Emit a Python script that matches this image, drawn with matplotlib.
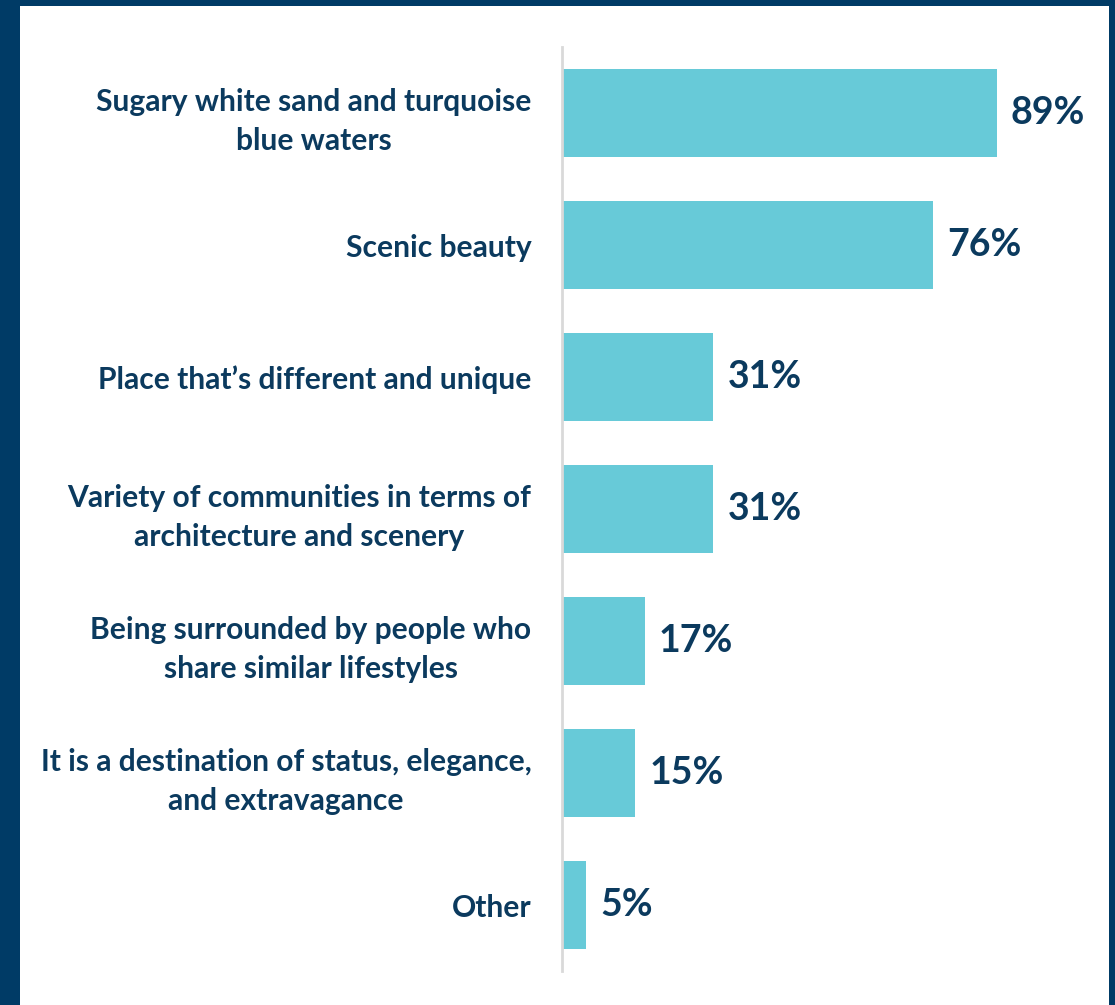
import matplotlib
matplotlib.use("Agg")
import matplotlib.pyplot as plt
from matplotlib.patches import Rectangle

categories = [
    "Sugary white sand and turquoise\nblue waters",
    "Scenic beauty",
    "Place that\u2019s different and unique",
    "Variety of communities in terms of\narchitecture and scenery",
    "Being surrounded by people who\nshare similar lifestyles",
    "It is a destination of status, elegance,\nand extravagance",
    "Other",
]
values = [89, 76, 31, 31, 17, 15, 5]

NAVY = "#003B66"
TEXT = "#0B3A5E"
BAR = "#67CAD8"
FONT = "Lato"

W, H = 1115, 1005
fig = plt.figure(figsize=(W / 100, H / 100), dpi=100)
fig.patch.set_facecolor("white")

# navy frame on the left, top and right edges
for x0, y0, w, h in [(0, 0, 20, H), (0, H - 6, W, 6), (W - 6, 0, 6, H)]:
    fig.add_artist(Rectangle((x0 / W, y0 / H), w / W, h / H,
                             transform=fig.transFigure, color=NAVY, lw=0, zorder=0))

ax = fig.add_axes([562 / W, 34 / H, 488.6 / W, 924 / H])
ax.set_facecolor("none")
y = list(range(len(values)))
ax.barh(y, values, height=0.66, color=BAR, zorder=2)
ax.set_xlim(0, 100)
ax.set_ylim(len(values) - 0.5, -0.5)

for s in ["top", "right", "bottom"]:
    ax.spines[s].set_visible(False)
ax.spines["left"].set_color("#D9D9D9")
ax.spines["left"].set_linewidth(2)
ax.set_xticks([])
ax.set_yticks(y)
ax.set_yticklabels(categories, fontsize=21.6, fontweight="bold", color=TEXT,
                   family=FONT, multialignment="center", linespacing=1.5)
ax.tick_params(axis="y", length=0, pad=22)

for yi, v in zip(y, values):
    ax.annotate(f"{v}%", (v, yi), xytext=(10, 0), textcoords="offset points",
                ha="left", va="center", fontsize=27, fontweight="bold",
                color=TEXT, family=FONT)

fig.savefig("out.png", dpi=100, facecolor="white")
